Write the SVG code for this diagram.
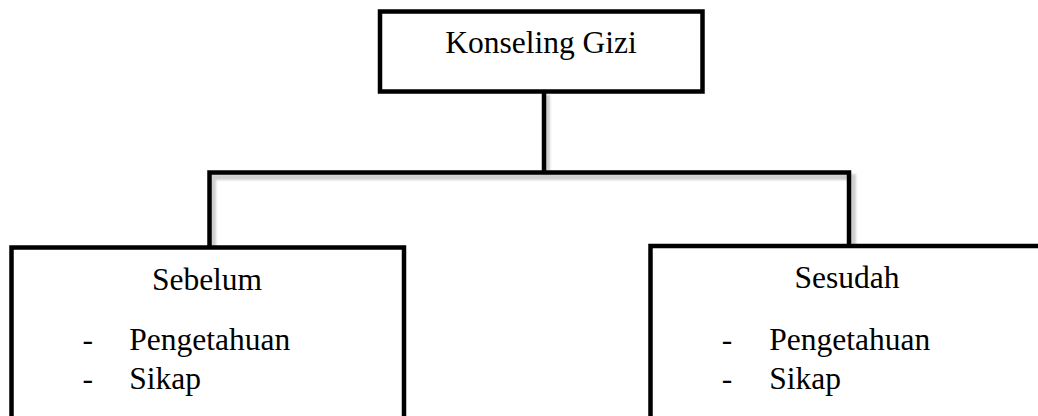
<svg xmlns="http://www.w3.org/2000/svg" width="1038" height="416" viewBox="0 0 1038 416">
  <style>
    .box { fill: #ffffff; stroke: #000000; stroke-width: 4.5; }
    .conn { fill: none; stroke: #000000; stroke-width: 4.5; }
    .shadow { fill: none; stroke: #cfcfcf; stroke-width: 6; }
    text { font-family: 'Liberation Serif', serif; font-size: 31.5px; fill: #000000; }
    .c { text-anchor: middle; }
  </style>
  <defs>
    <filter id="blur" x="-10%" y="-50%" width="120%" height="200%">
      <feGaussianBlur stdDeviation="1.2"/>
    </filter>
  </defs>
  <rect width="1038" height="416" fill="#ffffff"/>
  <g id="connectors">
    <path class="shadow" filter="url(#blur)" d="M 547 95 L 547 177 M 213 252 L 213 177 L 853 177 L 853 250"/>
    <path class="conn" d="M 544 92 L 544 172.5 M 209.5 247.5 L 209.5 172.5 L 849 172.5 L 849 246"/>
  </g>
  <g id="node-konseling">
    <rect class="box" x="380" y="11.5" width="322.5" height="80"/>
    <text class="c" x="541" y="53" font-family="Liberation Serif, serif">Konseling Gizi</text>
  </g>
  <g id="node-sebelum">
    <rect class="box" x="11.5" y="247.5" width="392.5" height="190"/>
    <text class="c" x="207" y="290" font-family="Liberation Serif, serif">Sebelum</text>
    <text x="82.5" y="350" font-family="Liberation Serif, serif">-</text>
    <text x="129.3" y="350" font-family="Liberation Serif, serif">Pengetahuan</text>
    <text x="82.5" y="389" font-family="Liberation Serif, serif">-</text>
    <text x="129.3" y="389" font-family="Liberation Serif, serif">Sikap</text>
  </g>
  <g id="node-sesudah">
    <rect class="box" x="650.5" y="246" width="420" height="190"/>
    <text class="c" x="847" y="287.5" font-family="Liberation Serif, serif">Sesudah</text>
    <text x="721.7" y="350" font-family="Liberation Serif, serif">-</text>
    <text x="769.3" y="350" font-family="Liberation Serif, serif">Pengetahuan</text>
    <text x="721.7" y="389" font-family="Liberation Serif, serif">-</text>
    <text x="769.3" y="389" font-family="Liberation Serif, serif">Sikap</text>
  </g>
</svg>
